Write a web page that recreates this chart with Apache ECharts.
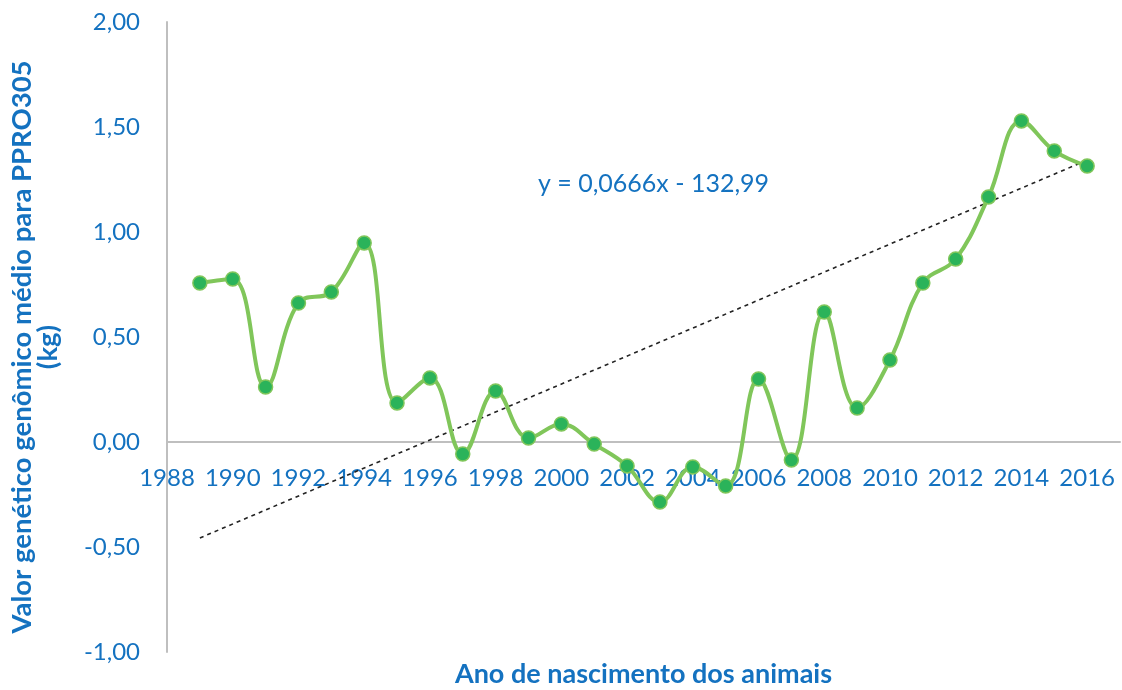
<!DOCTYPE html>
<html>
<head>
<meta charset="utf-8">
<script src="https://cdn.jsdelivr.net/npm/echarts@6/dist/echarts.min.js"></script>
<style>
  html, body {margin: 0; padding: 0; background: #fff;}
  #chart {width: 1122px; height: 690px;}
</style>
</head>
<body>
<div id="chart"></div>
<script>
const years = [1989, 1990, 1991, 1992, 1993, 1994, 1995, 1996, 1997, 1998, 1999, 2000, 2001, 2002,
  2003, 2004, 2005, 2006, 2007, 2008, 2009, 2010, 2011, 2012, 2013, 2014, 2015, 2016]
const breedingValue = [0.757, 0.776, 0.262, 0.662, 0.714, 0.948, 0.186, 0.305, -0.057, 0.243, 0.019, 0.086, -0.010, -0.114,
  -0.286, -0.119, -0.210, 0.300, -0.086, 0.619, 0.162, 0.390, 0.757, 0.871, 1.167, 1.529, 1.386, 1.314]
// trend line as reported on the chart (unrounded estimate)
const trendSlope = 0.066635
const trendIntercept = -132.994
const yTitleLines = ['Valor genético genômico médio para PPRO305', '(kg)']
const xTitle = 'Ano de nascimento dos animais'
const equationLabel = 'y = 0,0666x - 132,99'

const textBlue = '#1472c0'
const lineGreen = '#80c65a'
const dotGreen = '#2bb35a'
const axisGrey = '#bfbfbf'
const font = 'Lato'

const trend = [years[0], years[years.length - 1]].map(x => [x, trendSlope * x + trendIntercept])

const chart = echarts.init(document.getElementById('chart'))
chart.setOption({
  animation: false,
  backgroundColor: '#fff',
  grid: {left: 167, right: 2, top: 22, bottom: 38, containLabel: false, outerBoundsMode: 'none'},
  xAxis: {
    type: 'value',
    min: 1988,
    max: 2017,
    interval: 2,
    // grid is 630px tall for 3 units, so 0 sits 210px above the bottom
    offset: -210,
    name: xTitle,
    nameLocation: 'middle',
    nameGap: 219,
    nameTextStyle: {color: textBlue, fontFamily: font, fontSize: 27, fontWeight: 'bold'},
    axisLine: {onZero: false, lineStyle: {color: axisGrey, width: 2}},
    axisTick: {show: false},
    splitLine: {show: false},
    axisLabel: {
      color: textBlue, fontFamily: font, fontSize: 24, margin: 24, showMaxLabel: false,
      formatter: v => String(v)
    }
  },
  yAxis: {
    type: 'value',
    min: -1,
    max: 2,
    interval: 0.5,
    axisLine: {show: true, lineStyle: {color: axisGrey, width: 2}},
    axisTick: {show: false},
    splitLine: {show: false},
    axisLabel: {
      color: textBlue, fontFamily: font, fontSize: 24, margin: 27,
      formatter: v => v.toFixed(2).replace('.', ',')
    }
  },
  graphic: [{
    type: 'text',
    left: 538,
    top: 171,
    style: {text: equationLabel, fill: textBlue, font: `25px ${font}`}
  }, {
    type: 'text',
    x: 35,
    y: 347,
    rotation: Math.PI / 2,
    style: {
      text: yTitleLines.join('\n'),
      fill: textBlue,
      font: `bold 27.5px ${font}`,
      lineHeight: 26,
      align: 'center',
      verticalAlign: 'middle'
    }
  }],
  series: [{
    type: 'line',
    data: trend,
    symbol: 'none',
    lineStyle: {color: '#222', width: 1.6, type: [4, 4]},
    z: 1
  }, {
    type: 'line',
    data: years.map((x, i) => [x, breedingValue[i]]),
    smooth: 0.4,
    symbol: 'circle',
    symbolSize: 14,
    lineStyle: {color: lineGreen, width: 4},
    itemStyle: {color: dotGreen, borderColor: lineGreen, borderWidth: 1.5},
    z: 2
  }]
})
</script>
</body>
</html>
